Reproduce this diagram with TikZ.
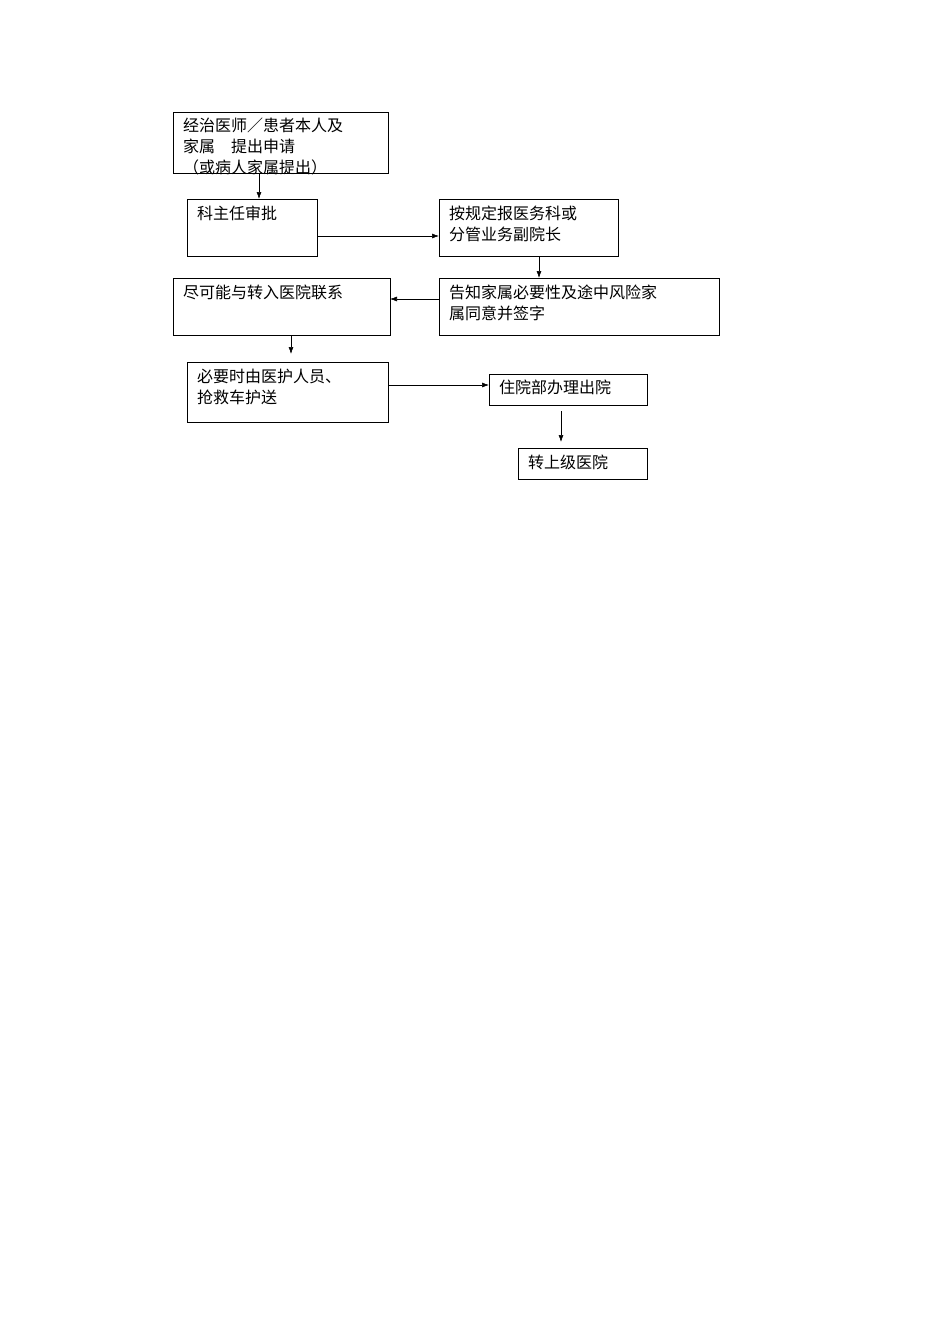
\documentclass[tikz,border=0pt]{standalone}
\usepackage{fontspec}
\setmainfont{Noto Sans CJK SC}
\usetikzlibrary{arrows.meta}
\begin{document}
\begin{tikzpicture}[x=1pt,y=-1pt,
  bx/.style={draw,line width=0.8pt},
  tx/.style={anchor=north west,inner sep=0pt,font=\fontsize{16}{21}\selectfont,align=left},
  ar/.style={-{Latex[length=7pt,width=5pt]},line width=0.6pt}]
\useasboundingbox (0,0) rectangle (950,1344);
\draw[bx] (173,112) rectangle (388,173);
\draw[bx] (187,199) rectangle (317,256);
\draw[bx] (439,199) rectangle (618,256);
\draw[bx] (439,278) rectangle (719,335);
\draw[bx] (173,278) rectangle (390,335);
\draw[bx] (187,362) rectangle (388,422);
\draw[bx] (489,374) rectangle (647,405);
\draw[bx] (518,448) rectangle (647,479);
\node[tx] (a) at (183,118) {经治医师／患者本人及\\家属　提出申请\\（或病人家属提出）};
\node[tx] (b) at (197,206) {科主任审批};
\node[tx] (c) at (449,206) {按规定报医务科或\\分管业务副院长};
\node[tx] (d) at (449,285) {告知家属必要性及途中风险家\\属同意并签字};
\node[tx] (e) at (183,285) {尽可能与转入医院联系};
\node[tx] (f) at (197,369) {必要时由医护人员、\\抢救车护送};
\node[tx] (g) at (499,380) {住院部办理出院};
\node[tx] (h) at (528,455) {转上级医院};
\coordinate (a1) at (259,173); \coordinate (b1) at (259,199);
\coordinate (b2) at (317,236); \coordinate (c2) at (439,236);
\coordinate (c3) at (539,256); \coordinate (d3) at (539,278);
\coordinate (d4) at (439,299); \coordinate (e4) at (390,299);
\coordinate (e5) at (291,335); \coordinate (f5) at (291,354);
\coordinate (f6) at (388,385); \coordinate (g6) at (489,385);
\coordinate (g7) at (561,411); \coordinate (h7) at (561,442);
\draw[ar] (a1)--(b1); \draw[ar] (b2)--(c2); \draw[ar] (c3)--(d3);
\draw[ar] (d4)--(e4); \draw[ar] (e5)--(f5); \draw[ar] (f6)--(g6);
\draw[ar] (g7)--(h7);
\end{tikzpicture}
\end{document}
